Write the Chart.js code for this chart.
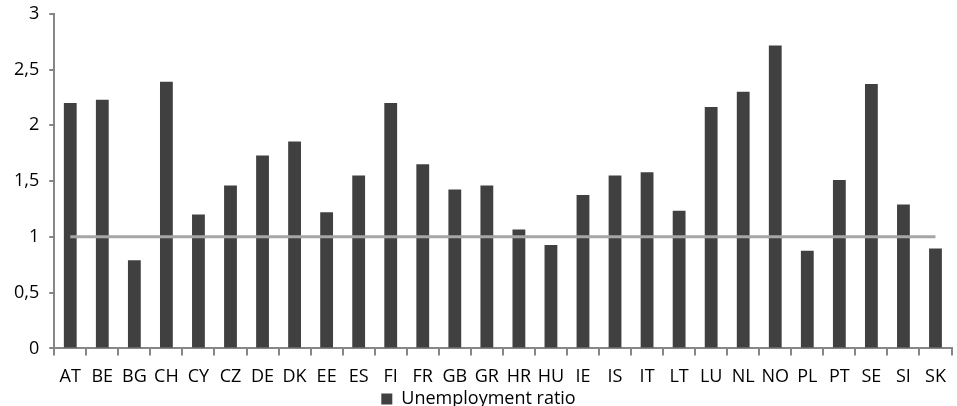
<!DOCTYPE html>
<html>
<head>
<meta charset="utf-8">
<script src="https://cdn.jsdelivr.net/npm/chart.js@4/dist/chart.umd.min.js"></script>
<style>
  html, body { margin: 0; padding: 0; background: #fff; overflow: hidden; }
  #wrap { width: 957px; height: 413px; position: relative; top: -7px; }
</style>
</head>
<body>
<div id="wrap"><canvas id="chart"></canvas></div>
<script>
const COUNTRIES = ['AT','BE','BG','CH','CY','CZ','DE','DK','EE','ES','FI','FR','GB','GR',
  'HR','HU','IE','IS','IT','LT','LU','NL','NO','PL','PT','SE','SI','SK'];
const UNEMPLOYMENT_RATIO = [2.2, 2.23, 0.79, 2.39, 1.2, 1.46, 1.73, 1.855, 1.22, 1.55, 2.2, 1.65, 1.425, 1.46,
  1.066, 0.926, 1.375, 1.55, 1.58, 1.235, 2.165, 2.3, 2.715, 0.875, 1.51, 2.37, 1.29, 0.895];
const REFERENCE_LINE = [1, 1, 1, 1, 1, 1, 1, 1, 1, 1, 1, 1, 1, 1,
  1, 1, 1, 1, 1, 1, 1, 1, 1, 1, 1, 1, 1, 1];
const Y_MIN = 0, Y_MAX = 3, Y_STEP = 0.5;

const FONT = "'Open Sans', 'DejaVu Sans', sans-serif";
const AXIS_COLOR = '#868686';

new Chart(document.getElementById('chart').getContext('2d'), {
  type: 'bar',
  data: {
    labels: COUNTRIES,
    datasets: [
      {
        type: 'line',
        label: 'Reference',
        data: REFERENCE_LINE,
        borderColor: '#a6a6a6',
        borderWidth: 3,
        pointRadius: 0,
        fill: false,
        order: 0
      },
      {
        label: 'Unemployment ratio',
        data: UNEMPLOYMENT_RATIO,
        backgroundColor: '#404040',
        borderWidth: 0,
        barPercentage: 0.4,
        categoryPercentage: 1,
        order: 1
      }
    ]
  },
  options: {
    responsive: true,
    maintainAspectRatio: false,
    animation: false,
    layout: { padding: { top: 0, right: 4, left: 4, bottom: -12 } },
    plugins: {
      tooltip: { enabled: false },
      legend: {
        position: 'bottom',
        labels: {
          filter: item => item.text === 'Unemployment ratio',
          boxWidth: 11,
          boxHeight: 11,
          padding: 0,
          color: '#000',
          font: { family: FONT, size: 18 }
        }
      }
    },
    scales: {
      x: {
        offset: true,
        // pull the legend up closer to the category labels
        afterFit: scale => { scale.height -= 9; },
        grid: { display: true, offset: true, drawOnChartArea: false, drawTicks: true, tickLength: 7, color: AXIS_COLOR, lineWidth: 2 },
        border: { color: AXIS_COLOR, width: 2 },
        ticks: { color: '#000', font: { family: FONT, size: 18 }, padding: 11, maxRotation: 0, autoSkip: false }
      },
      y: {
        min: Y_MIN,
        max: Y_MAX,
        grid: { display: true, drawOnChartArea: false, drawTicks: true, tickLength: 5, color: AXIS_COLOR, lineWidth: 2 },
        border: { color: AXIS_COLOR, width: 2 },
        ticks: {
          stepSize: Y_STEP,
          color: '#000',
          padding: 10,
          font: { family: FONT, size: 18 },
          callback: v => String(v).replace('.', ',')
        }
      }
    }
  }
});
</script>
</body>
</html>
